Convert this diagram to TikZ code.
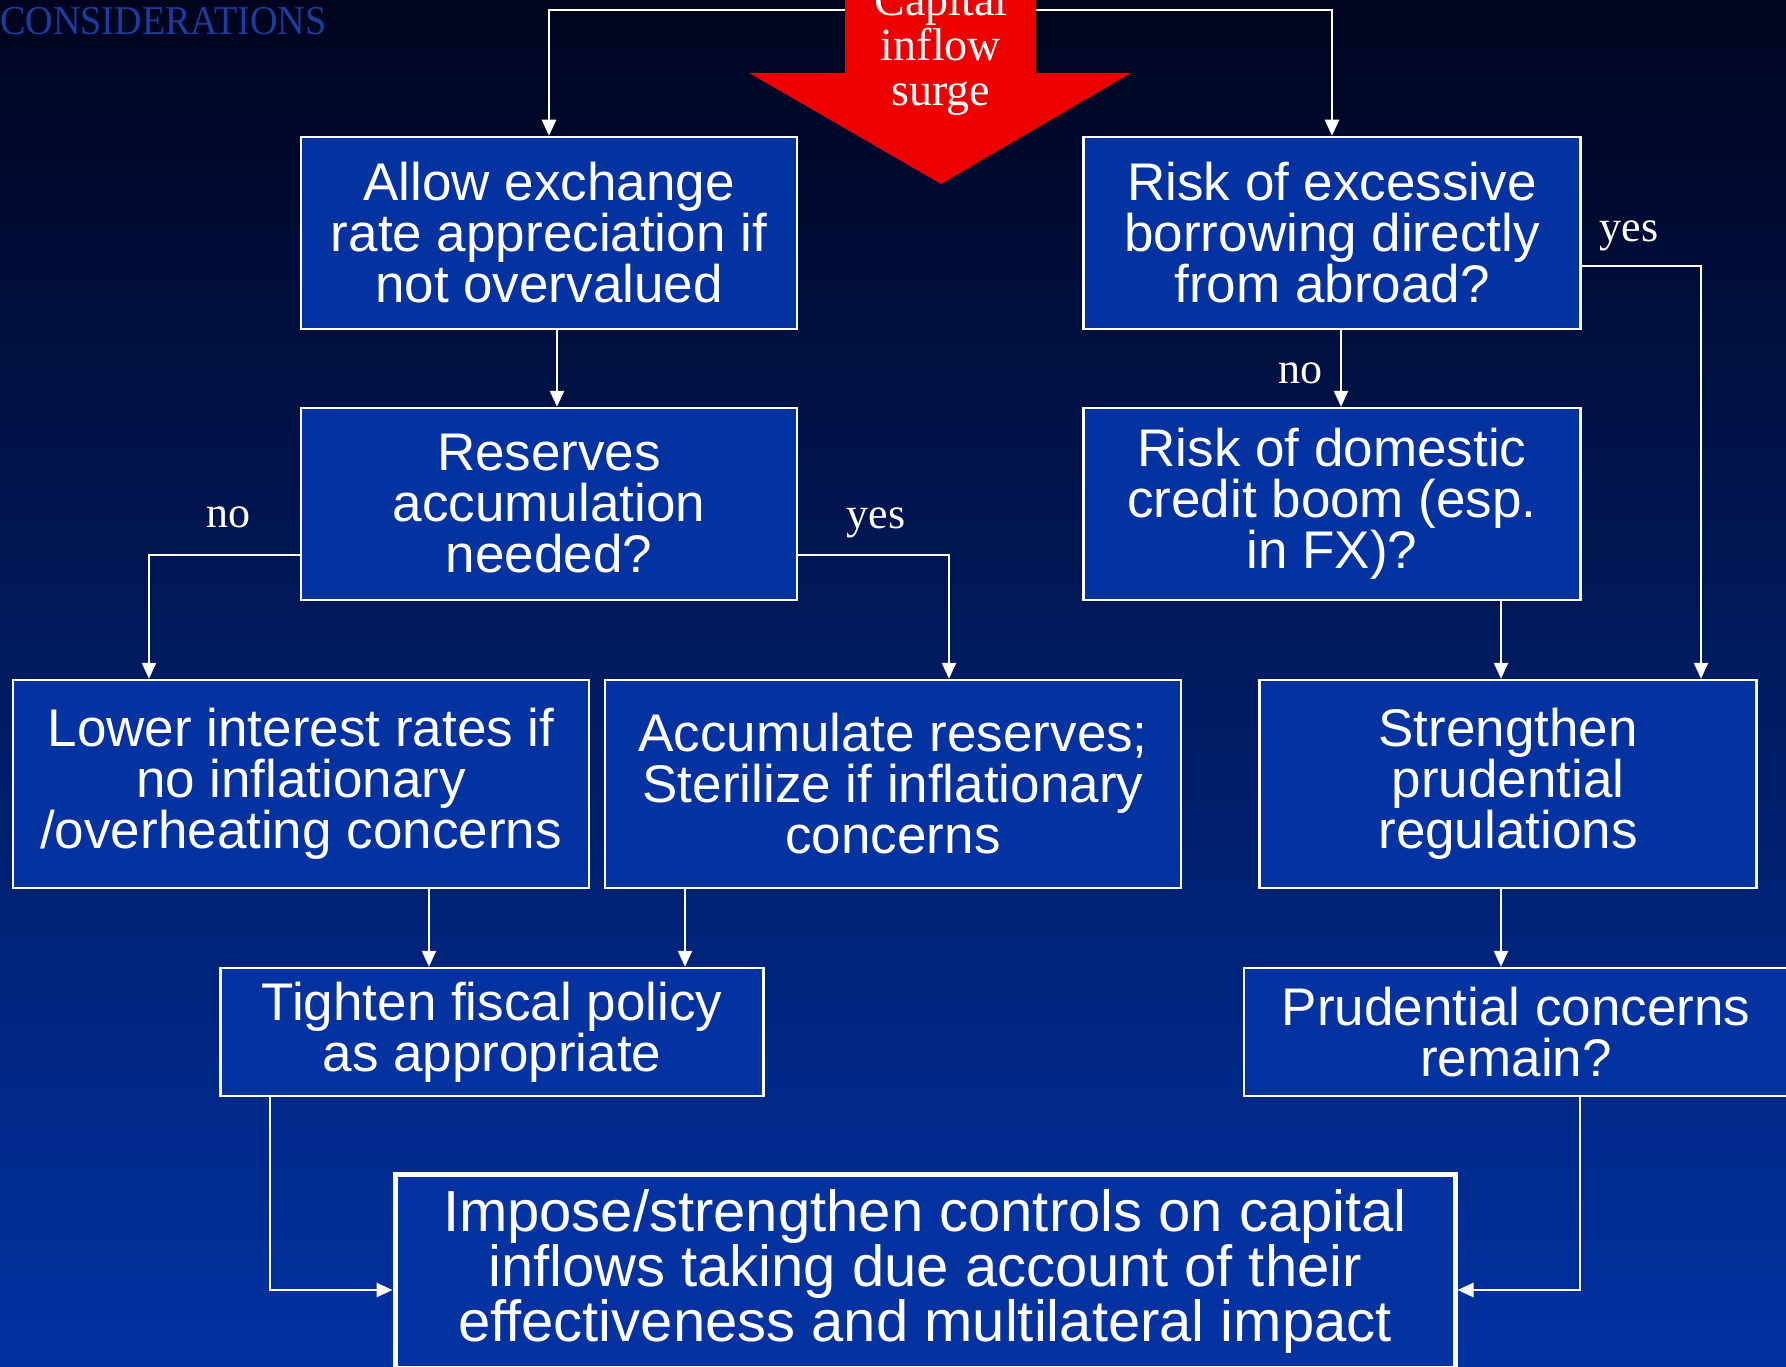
\documentclass[tikz,border=0pt]{standalone}
\usepackage{fontspec}
\usepackage{graphicx}
\setmainfont{Liberation Serif}
\setsansfont{Liberation Sans}
\usetikzlibrary{arrows.meta}
\definecolor{bgtop}{RGB}{0,4,30}
\definecolor{bgmid}{RGB}{2,38,136}
\definecolor{bgbot}{RGB}{0,50,162}
\definecolor{boxblue}{RGB}{4,50,160}
\definecolor{surgered}{RGB}{236,0,0}
\definecolor{titleblue}{RGB}{30,60,158}

\begin{document}
\begin{tikzpicture}[x=1pt, y=-1pt,
  box/.style={draw=white, line width=2.5pt, fill=boxblue, text=white, inner sep=0pt,
    align=center, font=\sffamily\fontsize{53}{51}\selectfont},
  bigbox/.style={box, line width=5pt, font=\sffamily\fontsize{58}{55}\selectfont},
  flow/.style={draw=white, line width=2.5pt, -{Triangle[width=14pt,length=16pt]}},
  lbl/.style={text=white, inner sep=0pt, font=\fontsize{44}{44}\selectfont}
]
\useasboundingbox (0,0) rectangle (1786,1367);
\shade[top color=bgtop, middle color=bgmid, bottom color=bgbot] (0,0) rectangle (1786,1367);

\node[text=titleblue, inner sep=0pt, anchor=base west, font=\fontsize{41}{41}\selectfont]
  (title) at (0,35) {\scalebox{0.93}[1]{CONSIDERATIONS}};

% boxes
\node[box, minimum width=496pt, minimum height=192pt] (allow) at (549,233)
  {Allow exchange\\rate appreciation if\\not overvalued};
\node[box, minimum width=497pt, minimum height=192pt] (risk) at (1332,233)
  {Risk of excessive\\borrowing directly\\from abroad?};
\node[box, minimum width=496pt, minimum height=192pt] (reserves) at (549,504)
  {Reserves\\accumulation\\needed?};
\node[box, minimum width=497pt, minimum height=192pt] (credit) at (1332,504)
  {Risk of domestic\\credit boom (esp.\\in FX)?};
\node[box, minimum width=576pt, minimum height=208pt] (lower) at (301,784)
  {Lower interest rates if\\no inflationary\\/overheating concerns};
\node[box, minimum width=576pt, minimum height=208pt] (accum) at (893,784)
  {Accumulate reserves;\\Sterilize if inflationary\\concerns};
\node[box, minimum width=497pt, minimum height=208pt] (strengthen) at (1508,784)
  {Strengthen\\prudential\\regulations};
\node[box, minimum width=543pt, minimum height=128pt] (tighten) at (492,1032)
  {Tighten fiscal policy\\as appropriate};
\node[box, minimum width=544pt, minimum height=128pt] (remain) at (1516,1032)
  {Prudential concerns\\remain?};
\node[bigbox, minimum width=1060pt, minimum height=194pt] (impose) at (925,1271)
  {Impose/strengthen controls on capital\\inflows taking due account of their\\effectiveness and multilateral impact};

% connectors
\coordinate (src) at (941,10);
\draw[flow] (src) -| (allow);
\draw[flow] (src) -| (risk);
\draw[flow] ([xshift=8pt]allow.south) -- ([xshift=8pt]allow.south |- reserves.north);
\draw[flow] ([yshift=-51pt]reserves.west) -| ([xshift=-152pt]lower.north);
\draw[flow] ([yshift=-51pt]reserves.east) -| ([xshift=56pt]accum.north);
\draw[flow] ([xshift=9pt]risk.south) -- ([xshift=9pt]risk.south |- credit.north);
\draw[flow] ([yshift=-33pt]risk.east) -| ([xshift=193pt]strengthen.north);
\draw[flow] ([xshift=169pt]credit.south) -- ([xshift=169pt]credit.south |- strengthen.north);
\draw[flow] ([xshift=128pt]lower.south) -- ([xshift=128pt]lower.south |- tighten.north);
\draw[flow] ([xshift=-208pt]accum.south) -- ([xshift=-208pt]accum.south |- tighten.north);
\draw[flow] ([xshift=-7pt]strengthen.south) -- ([xshift=-7pt]strengthen.south |- remain.north);
\draw[flow] ([xshift=-222pt]tighten.south) |- ([yshift=-19pt]impose.west);
\draw[flow] ([xshift=64pt]remain.south) |- ([yshift=-19pt]impose.east);

\node[lbl] (nores) at (228,517) {no};
\node[lbl] (yesres) at (876,523) {yes};
\node[lbl] (norisk) at (1300,373) {no};
\node[lbl] (yesrisk) at (1629,236) {yes};

% capital inflow arrow
\fill[surgered] (845,-20) -- (845,73) -- (749,73) -- (941,184) -- (1131,73)
  -- (1036,73) -- (1036,-20) -- cycle;
\node[text=white, align=center, inner sep=0pt, font=\fontsize{46}{45}\selectfont]
  (surge) at (941,50) {Capital\\inflow\\surge};
\end{tikzpicture}
\end{document}
